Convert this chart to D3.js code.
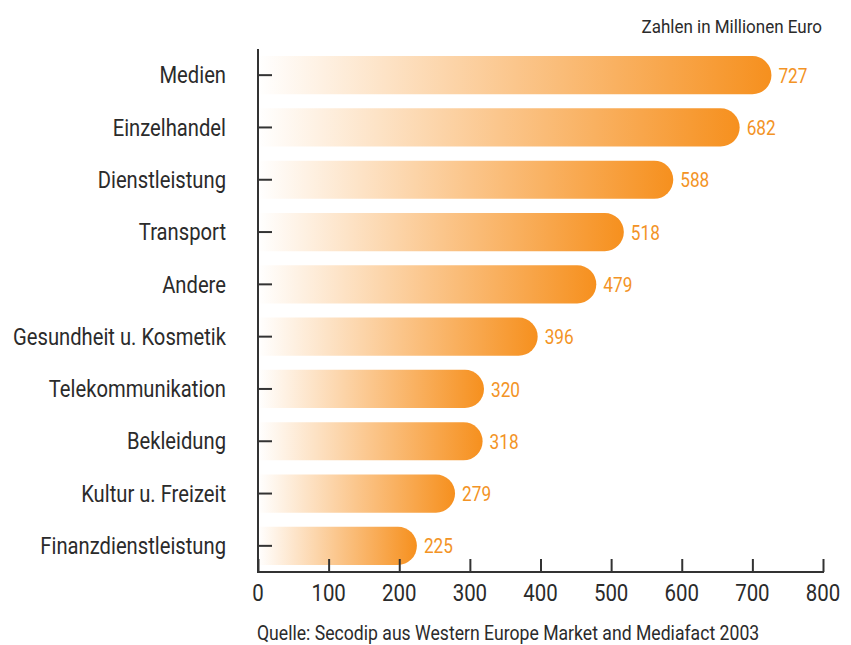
<!DOCTYPE html>
<html>
<head>
<meta charset="utf-8">
<script src="https://cdn.jsdelivr.net/npm/d3@7"></script>
<style>
  body { margin: 0; background: #fff; }
  svg text { font-family: "Roboto", "Liberation Sans", sans-serif; font-weight: 400; }
</style>
</head>
<body>
<div id="chart"></div>
<script>
var categories = ['Medien', 'Einzelhandel', 'Dienstleistung', 'Transport', 'Andere',
  'Gesundheit u. Kosmetik', 'Telekommunikation', 'Bekleidung', 'Kultur u. Freizeit', 'Finanzdienstleistung'];
var values = [727, 682, 588, 518, 479, 396, 320, 318, 279, 225];
var xTicks = [0, 100, 200, 300, 400, 500, 600, 700, 800];
var unitLabel = 'Zahlen in Millionen Euro';
var sourceLabel = 'Quelle: Secodip aus Western Europe Market and Mediafact 2003';

var data = categories.map(function(c, i){ return {cat: c, val: values[i]}; });

// condensed look: squeeze text horizontally
function place(x, y, s){
  return 'translate(' + x + ',' + y + ') scale(' + s + ',1)';
}

var svg = d3.select('#chart')
  .append('svg')
  .attr('width', 851)
  .attr('height', 645);

var defs = svg.append('defs');
var grad = defs.append('linearGradient')
  .attr('id', 'barGrad')
  .attr('x1', 0).attr('x2', 1).attr('y1', 0).attr('y2', 0);
grad.append('stop').attr('offset', 0).attr('stop-color', '#ffffff');
grad.append('stop').attr('offset', 0.5).attr('stop-color', '#fbc68c');
grad.append('stop').attr('offset', 1).attr('stop-color', '#f6901e');

var scaleX = d3.scaleLinear()
  .domain([0, 800])
  .range([258, 823]);

var scaleY = d3.scaleBand()
  .domain(categories)
  .range([49, 572])
  .paddingInner(0.27)
  .paddingOuter(0.135);

var bh = scaleY.bandwidth();
var r = bh / 2;

// bars, square left, round right end
svg.selectAll('.bar')
  .data(data)
  .enter()
  .append('path')
  .attr('class', 'bar')
  .attr('d', function(d){
    var x0 = scaleX(0), x1 = scaleX(d.val), y0 = scaleY(d.cat);
    return 'M' + x0 + ',' + y0 +
      'H' + (x1 - r) +
      'A' + r + ',' + r + ' 0 0 1 ' + (x1 - r) + ',' + (y0 + bh) +
      'H' + x0 + 'Z';
  })
  .style('fill', 'url(#barGrad)');

// value labels
svg.selectAll('.val')
  .data(data)
  .enter()
  .append('text')
  .attr('class', 'val')
  .attr('transform', d => place(scaleX(d.val) + 7, scaleY(d.cat) + bh / 2, 0.82))
  .attr('dy', '0.36em')
  .style('font-size', '21px')
  .style('fill', '#f39325')
  .text(d => d.val);

// axis Y
var axisY = d3.axisRight(scaleY).tickSize(14).tickFormat('');
var gy = svg.append('g')
  .attr('transform', 'translate(258,0)')
  .call(axisY);
gy.select('.domain').remove();
gy.selectAll('line').attr('stroke', '#333').attr('stroke-width', 2);
gy.append('line')
  .attr('x1', 0).attr('x2', 0)
  .attr('y1', 49).attr('y2', 573)
  .attr('stroke', '#333').attr('stroke-width', 2);

svg.selectAll('.cat')
  .data(data)
  .enter()
  .append('text')
  .attr('class', 'cat')
  .attr('transform', d => place(226, scaleY(d.cat) + bh / 2, 0.86))
  .attr('dy', '0.35em')
  .attr('text-anchor', 'end')
  .style('font-size', '23.5px')
  .style('fill', '#2b2b2b')
  .text(d => d.cat);

// axis X
var axisX = d3.axisTop(scaleX).tickValues(xTicks).tickSize(13).tickFormat('');
var gx = svg.append('g')
  .attr('transform', 'translate(0,572)')
  .call(axisX);
gx.select('.domain').remove();
gx.selectAll('line').attr('stroke', '#333').attr('stroke-width', 2);
gx.append('line')
  .attr('x1', 257).attr('x2', 824)
  .attr('y1', 0).attr('y2', 0)
  .attr('stroke', '#333').attr('stroke-width', 2);

svg.selectAll('.xlab')
  .data(xTicks)
  .enter()
  .append('text')
  .attr('class', 'xlab')
  .attr('transform', d => place(scaleX(d), 601, 0.87))
  .attr('text-anchor', 'middle')
  .style('font-size', '23.5px')
  .style('fill', '#2b2b2b')
  .text(d => d);

svg.append('text')
  .attr('transform', place(822, 33, 0.91))
  .attr('text-anchor', 'end')
  .style('font-size', '18.7px')
  .style('fill', '#2b2b2b')
  .text(unitLabel);

svg.append('text')
  .attr('transform', place(257, 640, 0.84))
  .style('font-size', '21px')
  .style('fill', '#2b2b2b')
  .text(sourceLabel);
</script>
</body>
</html>
